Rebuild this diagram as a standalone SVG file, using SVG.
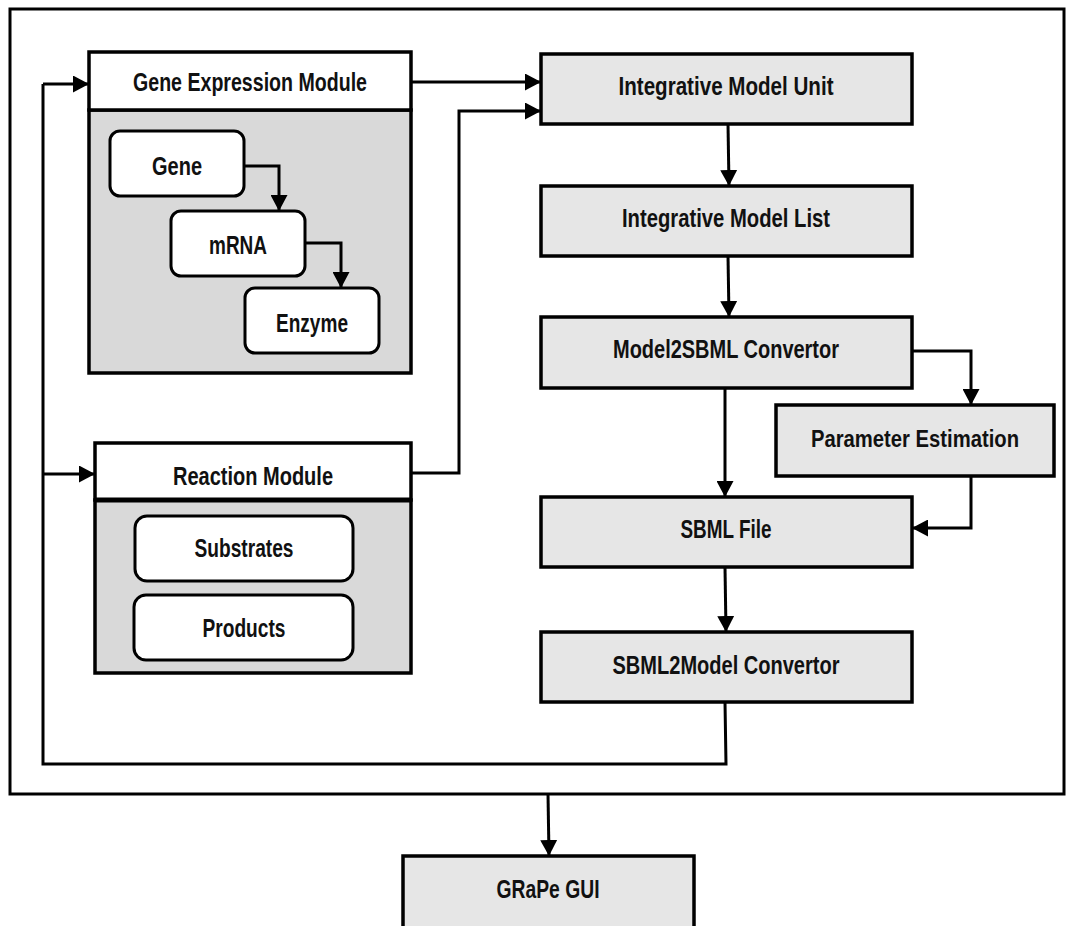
<svg xmlns="http://www.w3.org/2000/svg" width="1069" height="926" viewBox="0 0 1069 926">
<defs>
<marker id="ah" markerUnits="userSpaceOnUse" markerWidth="17" markerHeight="17" refX="16" refY="8.5" orient="auto"><path d="M0,0 L16,8.5 L0,17 z" fill="#000"/></marker>
<style>
.box{fill:#e6e6e6;stroke:#000;stroke-width:3.5}
.hdr{fill:#fff;stroke:#000;stroke-width:3.5}
.body{fill:#d9d9d9;stroke:#000;stroke-width:3.5}
.rr{fill:#fff;stroke:#000;stroke-width:3}
.frame{fill:#fff;stroke:#000;stroke-width:3}
.c{fill:none;stroke:#000;stroke-width:3}
.ca{fill:none;stroke:#000;stroke-width:3;marker-end:url(#ah)}
text{font-family:"Liberation Sans",Arial,sans-serif;font-weight:bold;font-size:26px;fill:#111;text-anchor:middle}
.sm{font-size:24px}
</style>
</defs>
<rect width="1069" height="926" fill="#fff"/>
<rect class="frame" x="10" y="9" width="1054" height="785"/>

<g id="gene-expression-module">
<rect class="body" x="89" y="110" width="322" height="263"/>
<rect class="hdr" x="89" y="52" width="322" height="58"/>
<text x="250" y="91" textLength="234" lengthAdjust="spacingAndGlyphs">Gene Expression Module</text>
</g>
<g id="gene">
<rect class="rr" x="110" y="131" width="134" height="65" rx="10"/>
<text x="177" y="175" textLength="50" lengthAdjust="spacingAndGlyphs">Gene</text>
</g>
<g id="mrna">
<rect class="rr" x="171" y="211" width="134" height="65" rx="10"/>
<text x="238" y="254" textLength="58" lengthAdjust="spacingAndGlyphs">mRNA</text>
</g>
<g id="enzyme">
<rect class="rr" x="245" y="288" width="134" height="65" rx="10"/>
<text x="312" y="332" textLength="72" lengthAdjust="spacingAndGlyphs">Enzyme</text>
</g>

<g id="reaction-module">
<rect class="body" x="95" y="500" width="316" height="173"/>
<rect class="hdr" x="95" y="443" width="316" height="57"/>
<line x1="95" y1="500" x2="411" y2="500" stroke="#000" stroke-width="5"/>
<text x="253" y="485" textLength="160" lengthAdjust="spacingAndGlyphs">Reaction Module</text>
</g>
<g id="substrates">
<rect class="rr" x="135" y="516" width="218" height="65" rx="12"/>
<text x="244" y="557" textLength="99" lengthAdjust="spacingAndGlyphs">Substrates</text>
</g>
<g id="products">
<rect class="rr" x="134" y="595" width="219" height="65" rx="12"/>
<text x="244" y="637" textLength="83" lengthAdjust="spacingAndGlyphs">Products</text>
</g>

<g id="integrative-model-unit">
<rect class="box" x="541" y="54" width="371" height="70"/>
<text x="726" y="95" textLength="215" lengthAdjust="spacingAndGlyphs">Integrative Model Unit</text>
</g>
<g id="integrative-model-list">
<rect class="box" x="541" y="186" width="371" height="70"/>
<text x="726" y="227" textLength="208" lengthAdjust="spacingAndGlyphs">Integrative Model List</text>
</g>
<g id="model2sbml-convertor">
<rect class="box" x="541" y="317" width="371" height="71"/>
<text x="726" y="358" textLength="226" lengthAdjust="spacingAndGlyphs">Model2SBML Convertor</text>
</g>
<g id="parameter-estimation">
<rect class="box" x="776" y="405" width="278" height="71"/>
<text class="sm" x="915" y="447" textLength="208" lengthAdjust="spacingAndGlyphs">Parameter Estimation</text>
</g>
<g id="sbml-file">
<rect class="box" x="541" y="497" width="371" height="70"/>
<text x="726" y="538" textLength="91" lengthAdjust="spacingAndGlyphs">SBML File</text>
</g>
<g id="sbml2model-convertor">
<rect class="box" x="541" y="632" width="371" height="70"/>
<text x="726" y="674" textLength="227" lengthAdjust="spacingAndGlyphs">SBML2Model Convertor</text>
</g>
<g id="grape-gui">
<rect class="box" x="403" y="856" width="291" height="80"/>
<text x="548" y="898" textLength="103" lengthAdjust="spacingAndGlyphs">GRaPe GUI</text>
</g>

<g id="connectors">
<polyline class="ca" points="244,166 279,166 279,211"/>
<polyline class="ca" points="305,243 341,243 341,288"/>
<line class="ca" x1="411" y1="82" x2="541" y2="82"/>
<polyline class="ca" points="411,473 459,473 459,111 541,111"/>
<polyline class="c" points="725,702 726,764 43,764 43,84"/>
<line class="ca" x1="43" y1="84" x2="89" y2="84"/>
<line class="ca" x1="43" y1="474" x2="95" y2="474"/>
<line class="ca" x1="728" y1="124" x2="729" y2="186"/>
<line class="ca" x1="728" y1="256" x2="729" y2="317"/>
<line class="ca" x1="725" y1="388" x2="725" y2="497"/>
<polyline class="ca" points="912,351 971,351 971,405"/>
<polyline class="ca" points="971,476 971,528 912,528"/>
<line class="ca" x1="725" y1="567" x2="726" y2="632"/>
<line class="ca" x1="548" y1="794" x2="549" y2="856"/>
</g>
</svg>
